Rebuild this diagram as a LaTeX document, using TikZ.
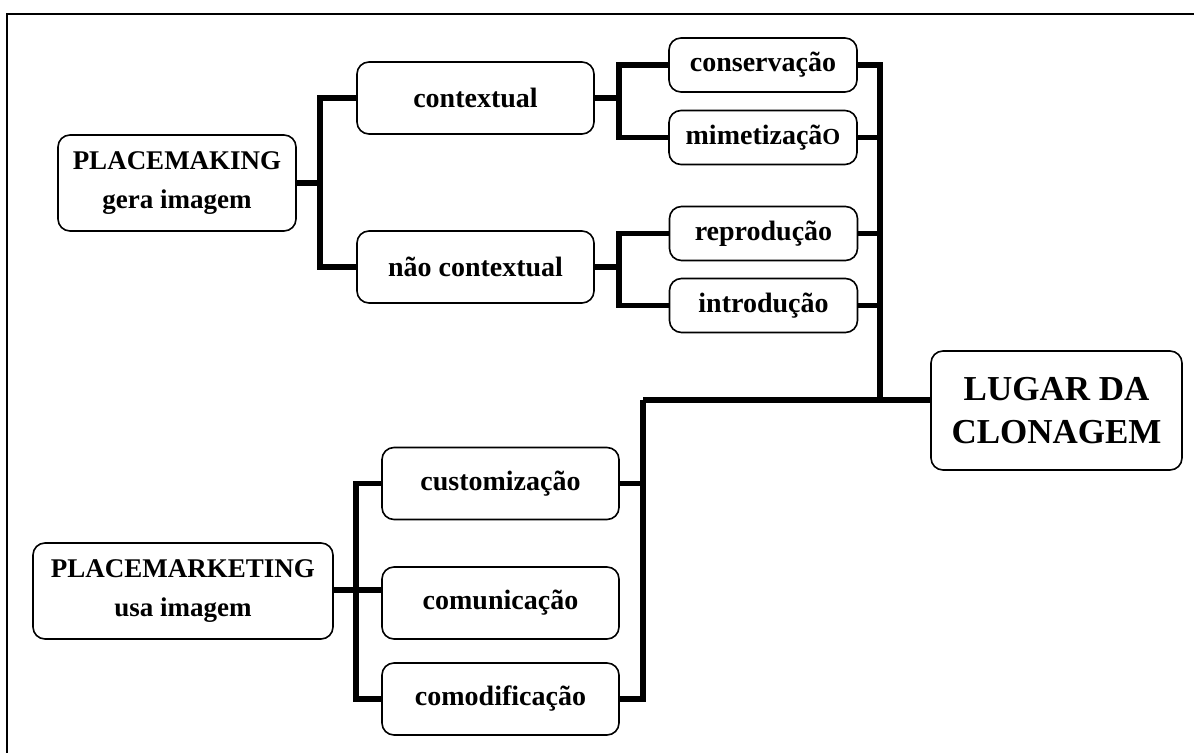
\documentclass[tikz,border=0pt]{standalone}
\usepackage{fontspec}
\setmainfont{Liberation Serif}
\usetikzlibrary{calc}

\tikzset{
  box/.style={draw, line width=0.8pt, rounded corners=6pt, align=center,
    inner sep=0pt, font=\fontsize{14}{17}\selectfont\bfseries},
  srcbox/.style={box, minimum height=48pt,
    font=\fontsize{13.5}{19.5}\selectfont\bfseries},
  wire/.style={line width=2.6pt, line join=miter},
}

\begin{document}
\begin{tikzpicture}[x=0.5pt, y=-0.5pt]
  \useasboundingbox (0,0) rectangle (1194,753);

  % frame (top and left edges)
  \draw[line width=1pt] (1194,14) -- (7,14) -- (7,753);

  % sources
  \node[srcbox, minimum width=119pt] (pmk) at (177,183)
    {PLACEMAKING\\gera imagem};
  \node[srcbox, minimum width=150pt] (pmkt) at (183,591)
    {PLACEMARKETING\\usa imagem};

  % placemaking branches
  \node[box, minimum width=118.5pt, minimum height=36pt] (ctx) at (475.5,98) {contextual};
  \node[box, minimum width=118.5pt, minimum height=36pt] (nctx) at (475.5,267) {não contextual};
  \node[box, minimum width=94pt, minimum height=27pt] (cons) at (763,65) {conservação};
  \node[box, minimum width=94pt, minimum height=27pt] (mim) at (763,137.5)
    {mimetizaçã{\fontsize{11.5}{13}\selectfont O}};
  \node[box, minimum width=94pt, minimum height=27pt] (rep) at (763.5,233.5) {reprodução};
  \node[box, minimum width=94pt, minimum height=27pt] (intro) at (763.5,305.5) {introdução};

  % placemarketing branches
  \node[box, minimum width=118.5pt, minimum height=36pt] (cust) at (500.5,483.5) {customização};
  \node[box, minimum width=118.5pt, minimum height=36pt] (comu) at (500.5,603) {comunicação};
  \node[box, minimum width=118.5pt, minimum height=36pt] (comod) at (500.5,699) {comodificação};

  % result
  \node[box, minimum width=125.5pt, minimum height=59.5pt,
    font=\fontsize{17.5}{21.5}\selectfont\bfseries] (lug) at (1056.5,410.5)
    {LUGAR DA\\CLONAGEM};

  % junction points
  \coordinate (j1) at (320,183);
  \coordinate (j2) at (619,98);
  \coordinate (j3) at (619,267);
  \coordinate (j4) at (880,400);
  \coordinate (j5) at (643,400);
  \coordinate (j6) at (356,590);

  % placemaking tree
  \draw[wire] (pmk.east) -- (j1);
  \draw[wire] (ctx.west) -| (j1) |- (nctx.west);
  \draw[wire] (ctx.east) -- (j2);
  \draw[wire] (cons.west) -| (j2) |- (mim.west);
  \draw[wire] (nctx.east) -- (j3);
  \draw[wire] (rep.west) -| (j3) |- (intro.west);

  % gathering spine into the result
  \draw[wire] (cons.east) -| (j4);
  \draw[wire] (mim.east) -- (mim.east -| j4);
  \draw[wire] (rep.east) -- (rep.east -| j4);
  \draw[wire] (intro.east) -- (intro.east -| j4);
  \draw[wire] (j5) -- (j5 -| lug.west);

  % placemarketing tree
  \draw[wire] (pmkt.east |- j6) -- (j6);
  \draw[wire] (cust.west) -| (j6) |- (comod.west);
  \draw[wire] (j6) -- (comu.west |- j6);
  \draw[wire] (j5) |- (comod.east);
  \draw[wire] (cust.east) -- (cust.east -| j5);
  \draw[wire] ($(comu.east)+(0,-1)$) -- ($(comu.east)+(0,-1)$ -| j5);
\end{tikzpicture}
\end{document}
